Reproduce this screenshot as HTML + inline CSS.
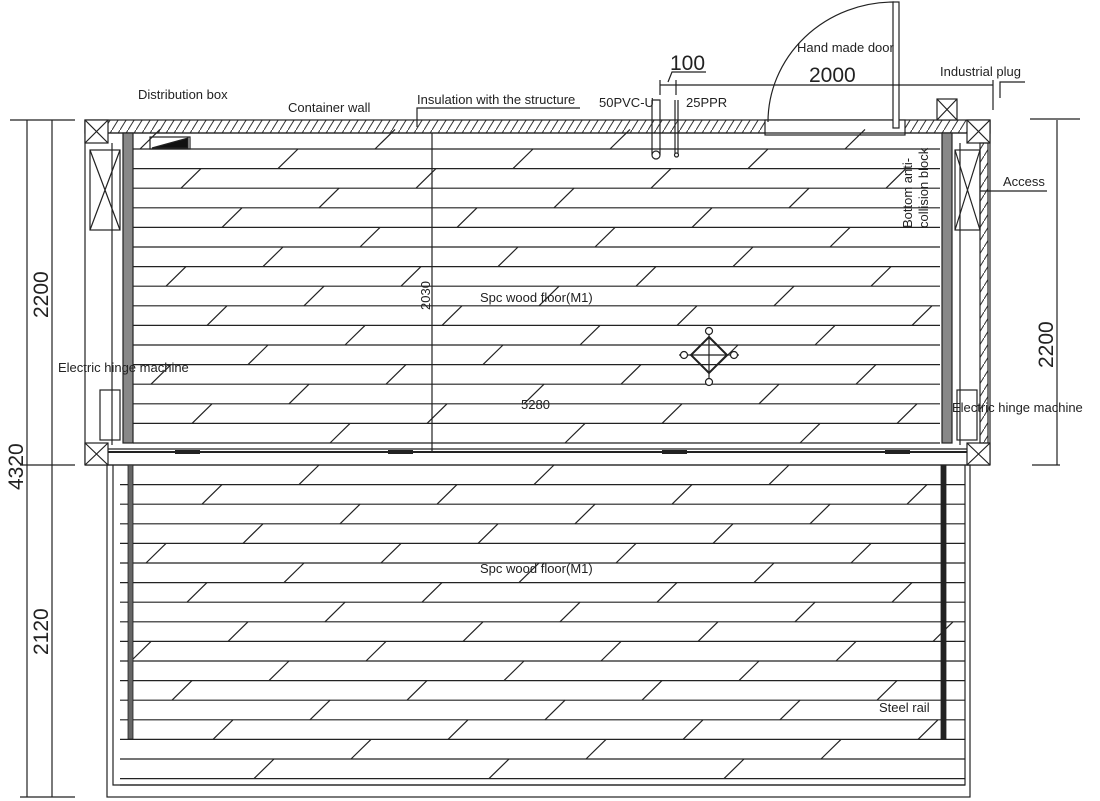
<!DOCTYPE html>
<html><head><meta charset="utf-8"><style>
html,body{margin:0;padding:0;background:#fff}
svg{display:block}
text{font-family:"Liberation Sans",sans-serif;fill:#222}
</style></head><body>
<svg id="s" width="1100" height="801" viewBox="0 0 1100 801" xmlns="http://www.w3.org/2000/svg">
<defs>
<pattern id="hat" width="8" height="13" patternUnits="userSpaceOnUse">
<line x1="0" y1="13" x2="8" y2="0" stroke="#333" stroke-width="1"/>
</pattern>
</defs>
<g stroke="#222" fill="none" stroke-width="1.2">
<line x1="10" y1="120" x2="75" y2="120"/>
<line x1="20" y1="465" x2="75" y2="465"/>
<line x1="20" y1="797" x2="75" y2="797"/>
<line x1="27" y1="120" x2="27" y2="797"/>
<line x1="52" y1="120" x2="52" y2="797"/>
<line x1="1057" y1="120" x2="1057" y2="465"/>
<line x1="1030" y1="119" x2="1080" y2="119"/>
<line x1="1032" y1="465" x2="1060" y2="465"/>
<rect x="85" y="120" width="905" height="13" fill="url(#hat)"/>
<rect x="765" y="120" width="140" height="15" fill="#fff" stroke="#222"/>
<line x1="108" y1="133" x2="967" y2="133"/>
<line x1="85" y1="120" x2="85" y2="465"/>
<line x1="990" y1="120" x2="990" y2="465"/>
<line x1="85" y1="465" x2="990" y2="465"/>
<rect x="85" y="120" width="23" height="23" fill="#fff"/><path d="M85 120L108 143M108 120L85 143"/>
<rect x="85" y="443" width="23" height="22" fill="#fff"/><path d="M85 443L108 465M108 443L85 465"/>
<rect x="967" y="120" width="23" height="23" fill="#fff"/><path d="M967 120L990 143M990 120L967 143"/>
<rect x="967" y="443" width="23" height="22" fill="#fff"/><path d="M967 443L990 465M990 443L967 465"/>
<rect x="937" y="99" width="20" height="21" fill="#fff"/><path d="M937 99L957 120M957 99L937 120"/>
<rect x="90" y="150" width="30" height="80"/><path d="M90 150L120 230M120 150L90 230"/>
<line x1="112" y1="143" x2="112" y2="445"/>
<rect x="100" y="390" width="20" height="50"/>
<rect x="123" y="133" width="10" height="310" fill="#888" stroke="#222"/>
<rect x="955" y="150" width="25" height="80"/><path d="M955 150L980 230M980 150L955 230"/>
<rect x="980" y="143" width="8" height="300" fill="url(#hat)"/>
<rect x="942" y="133" width="10" height="310" fill="#888" stroke="#222"/>
<rect x="957" y="390" width="20" height="50"/>
<line x1="960" y1="143" x2="960" y2="445"/>
<path d="M152 148L188 138L188 148Z" fill="#111"/>
<rect x="150" y="137" width="40" height="12"/>
<g id="tl"></g>
<line x1="432" y1="133" x2="432" y2="452"/>
<line x1="108" y1="452" x2="967" y2="452" stroke-width="2"/>
<line x1="108" y1="449" x2="967" y2="449"/>
<path d="M175 452h25M388 452h25M662 452h25M885 452h25" stroke-width="4"/>
<rect x="107" y="465" width="863" height="332"/>
<path d="M113 465V785H965V465"/>
<rect x="128" y="465" width="5" height="274" fill="#666" stroke="#222" stroke-width="0.8"/>
<rect x="941" y="465" width="5" height="274" fill="#222" stroke="#222" stroke-width="0.8"/>
<path d="M768 122A126 120 0 0 1 894 2" />
<rect x="893" y="2" width="6" height="126" fill="#fff"/>
<line x1="660" y1="85" x2="993" y2="85"/>
<line x1="993" y1="80" x2="993" y2="110"/>
<line x1="660" y1="80" x2="660" y2="95"/>
<line x1="676" y1="80" x2="676" y2="95"/>
<path d="M668 82L672 72H706"/>
<path d="M652 100H660V155M652 100V155"/>
<circle cx="656" cy="155" r="4" fill="#fff"/>
<path d="M675 100V155M678 100V155"/>
<circle cx="676.5" cy="155" r="2" fill="#fff"/>
<path d="M417 127V108H580"/>
<path d="M1000 98V82H1025"/>
<path d="M980 191H1047"/>
<path d="M709 337L727 355L709 373L691 355Z" stroke-width="2"/>
<path d="M709 331V379M679 355H739"/>
<circle cx="709" cy="331" r="3.5" fill="#fff"/><circle cx="709" cy="382" r="3.5" fill="#fff"/>
<circle cx="684" cy="355" r="3.5" fill="#fff"/><circle cx="734" cy="355" r="3.5" fill="#fff"/>
</g>
<g font-size="13">
<text x="138" y="99">Distribution box</text>
<text x="288" y="112">Container wall</text>
<text x="417" y="104">Insulation with the structure</text>
<text x="599" y="107">50PVC-U</text>
<text x="686" y="107">25PPR</text>
<text x="797" y="52">Hand made door</text>
<text x="940" y="76">Industrial plug</text>
<text x="1003" y="186">Access</text>
<text x="58" y="372">Electric hinge machine</text>
<text x="952" y="412">Electric hinge machine</text>
<text x="879" y="712">Steel rail</text>
<text x="480" y="302">Spc wood floor(M1)</text>
<text x="480" y="573">Spc wood floor(M1)</text>
<text x="521" y="409">5280</text>
<text transform="translate(912,228) rotate(-90)">Bottom anti-</text>
<text transform="translate(928,228) rotate(-90)">collision block</text>
<text transform="translate(430,310) rotate(-90)">2030</text>
</g>
<g font-size="21">
<text x="809" y="82">2000</text>
<text x="670" y="70">100</text>
<text transform="translate(48,318) rotate(-90)">2200</text>
<text transform="translate(23,490) rotate(-90)">4320</text>
<text transform="translate(48,655) rotate(-90)">2120</text>
<text transform="translate(1053,368) rotate(-90)">2200</text>
</g>
</svg>
<script>
(function(){
var g=document.getElementById('tl'),h='';
function L(a,b,c,d){h+='<line x1="'+a+'" y1="'+b+'" x2="'+c+'" y2="'+d+'"/>';}
var sp=19.6,row=0;
for(var y=149;y<446;y+=sp){L(133,y.toFixed(1),940,y.toFixed(1));
 var off=((row*-97)%235+235)%235+140;
 for(var x=off-235;x<940;x+=235){if(x>135&&x+20<938)L(x,y.toFixed(1),x+20,(y-sp).toFixed(1));}
 row++;}
row=3;
for(var y=484.6;y<782;y+=sp){L(120,y.toFixed(1),965,y.toFixed(1));
 var off=((row*-97)%235+235)%235+120;
 for(var x=off-235;x<965;x+=235){if(x>120&&x+20<962)L(x,y.toFixed(1),x+20,(y-sp).toFixed(1));}
 row++;}
L(120,785,965,785);
g.innerHTML=h;
})();
</script>
</body></html>
